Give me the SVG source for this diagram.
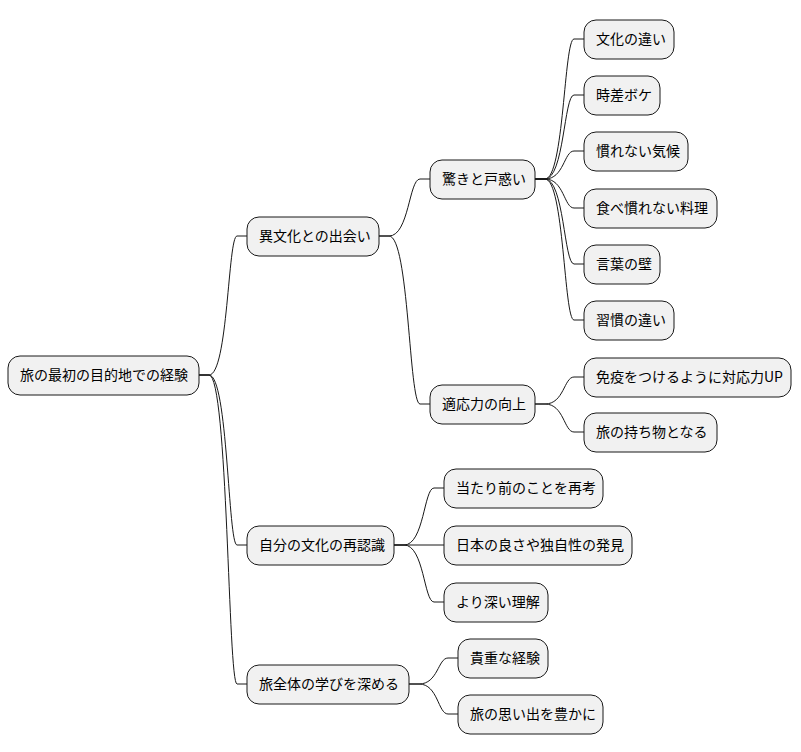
<svg xmlns="http://www.w3.org/2000/svg" width="801" height="752" viewBox="0 0 801 752">
<style>
.n rect{fill:#F1F1F1;stroke:#181818;stroke-width:1}
.n text{font-family:"Noto Sans CJK JP","Noto Sans",sans-serif;font-size:14px;fill:#000}
#edges path{fill:none;stroke:#181818;stroke-width:1}
</style>
<rect width="801" height="752" fill="#fff"/>
<g id="edges">
<path d="M199 375 h10 C228 375 228 236 237 236 h10"/>
<path d="M199 375 h10 C228 375 228 545 237 545 h10"/>
<path d="M199 375 h10 C228 375 228 684 237 684 h10"/>
<path d="M379 236 h10 C409 236 409 179 420 179 h10"/>
<path d="M379 236 h10 C409 236 409 404 420 404 h10"/>
<path d="M394 545 h10 C424 545 424 488 434 488 h10"/>
<path d="M394 545 h50"/>
<path d="M394 545 h10 C424 545 424 602 434 602 h10"/>
<path d="M409 684 h10 C438 684 438 658 448 658 h10"/>
<path d="M409 684 h10 C438 684 438 714 448 714 h10"/>
<path d="M535 179 h10 C564 179 564 39 574 39 h10"/>
<path d="M535 179 h10 C564 179 564 95 574 95 h10"/>
<path d="M535 179 h10 C564 179 564 151 574 151 h10"/>
<path d="M535 179 h10 C564 179 564 208 574 208 h10"/>
<path d="M535 179 h10 C564 179 564 264 574 264 h10"/>
<path d="M535 179 h10 C564 179 564 320 574 320 h10"/>
<path d="M535 404 h10 C564 404 564 377 574 377 h10"/>
<path d="M535 404 h10 C564 404 564 432 574 432 h10"/>
</g>
<g id="root" class="n"><rect x="8" y="356" width="191" height="39" rx="12"/><text x="20" y="380">旅の最初の目的地での経験</text></g>
<g id="n1" class="n"><rect x="247" y="217" width="132" height="39" rx="12"/><text x="259" y="241">異文化との出会い</text></g>
<g id="n2" class="n"><rect x="247" y="526" width="147" height="39" rx="12"/><text x="259" y="550">自分の文化の再認識</text></g>
<g id="n3" class="n"><rect x="247" y="665" width="162" height="39" rx="12"/><text x="259" y="689">旅全体の学びを深める</text></g>
<g id="n11" class="n"><rect x="430" y="160" width="105" height="39" rx="12"/><text x="442" y="184">驚きと戸惑い</text></g>
<g id="n12" class="n"><rect x="430" y="385" width="105" height="39" rx="12"/><text x="442" y="409">適応力の向上</text></g>
<g id="n21" class="n"><rect x="444" y="469" width="159" height="39" rx="12"/><text x="456" y="493">当たり前のことを再考</text></g>
<g id="n22" class="n"><rect x="444" y="526" width="188" height="39" rx="12"/><text x="456" y="550">日本の良さや独自性の発見</text></g>
<g id="n23" class="n"><rect x="444" y="583" width="104" height="39" rx="12"/><text x="456" y="607">より深い理解</text></g>
<g id="n31" class="n"><rect x="458" y="639" width="90" height="39" rx="12"/><text x="470" y="663">貴重な経験</text></g>
<g id="n32" class="n"><rect x="458" y="695" width="145" height="39" rx="12"/><text x="470" y="719">旅の思い出を豊かに</text></g>
<g id="n111" class="n"><rect x="584" y="20" width="90" height="39" rx="12"/><text x="596" y="44">文化の違い</text></g>
<g id="n112" class="n"><rect x="584" y="76" width="76" height="39" rx="12"/><text x="596" y="100">時差ボケ</text></g>
<g id="n113" class="n"><rect x="584" y="132" width="104" height="39" rx="12"/><text x="596" y="156">慣れない気候</text></g>
<g id="n114" class="n"><rect x="584" y="189" width="133" height="39" rx="12"/><text x="596" y="213">食べ慣れない料理</text></g>
<g id="n115" class="n"><rect x="584" y="245" width="76" height="39" rx="12"/><text x="596" y="269">言葉の壁</text></g>
<g id="n116" class="n"><rect x="584" y="301" width="90" height="39" rx="12"/><text x="596" y="325">習慣の違い</text></g>
<g id="n121" class="n"><rect x="584" y="358" width="207" height="39" rx="12"/><text x="596" y="382">免疫をつけるように対応力UP</text></g>
<g id="n122" class="n"><rect x="584" y="413" width="133" height="39" rx="12"/><text x="596" y="437">旅の持ち物となる</text></g>
</svg>
